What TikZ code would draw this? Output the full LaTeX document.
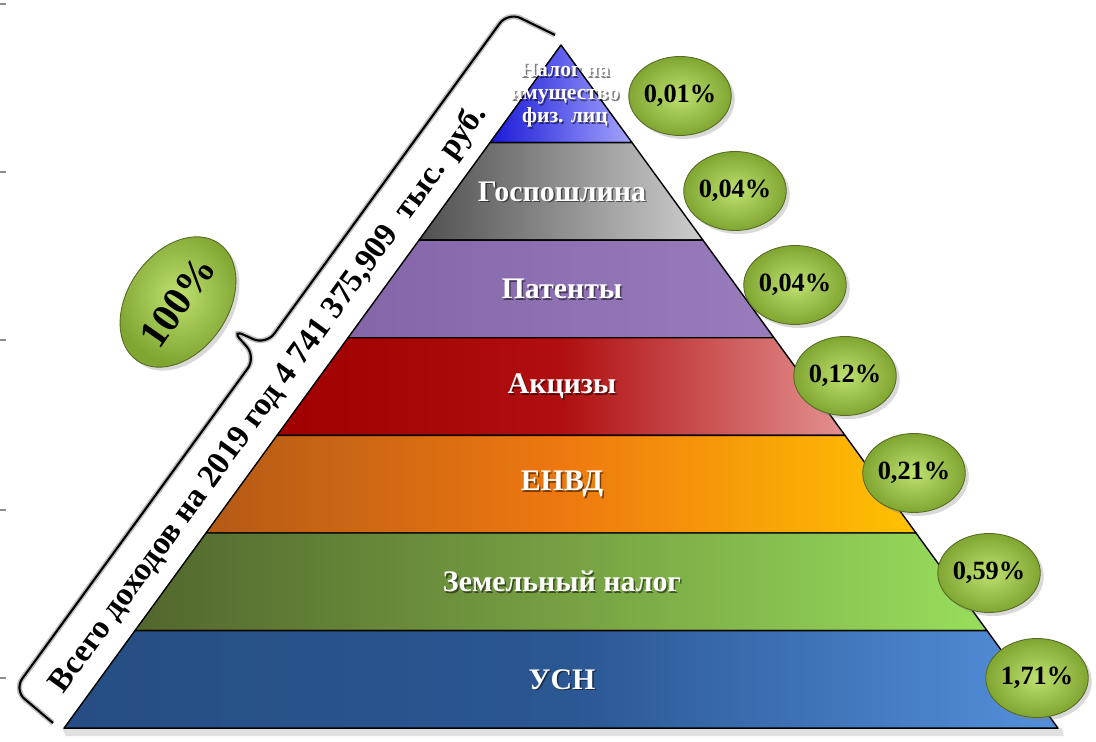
\documentclass[tikz,border=0pt]{standalone}
\usepackage{fontspec}
\setmainfont{Liberation Serif}
\usetikzlibrary{shapes.geometric, shadows, calc}

\definecolor{impblueL}{RGB}{25, 25, 215}
\definecolor{impblueR}{RGB}{165, 165, 255}
\definecolor{dutygrayL}{RGB}{80, 80, 80}
\definecolor{dutygrayR}{RGB}{205, 205, 205}
\definecolor{patpurpL}{RGB}{132, 102, 168}
\definecolor{patpurpR}{RGB}{152, 124, 188}
\definecolor{excredL}{RGB}{160, 0, 0}
\definecolor{excredM}{RGB}{176, 14, 16}
\definecolor{excredR}{RGB}{228, 145, 145}
\definecolor{envdL}{RGB}{180, 90, 22}
\definecolor{envdM}{RGB}{238, 120, 16}
\definecolor{envdR}{RGB}{255, 195, 0}
\definecolor{landL}{RGB}{82, 102, 45}
\definecolor{landM}{RGB}{118, 160, 66}
\definecolor{landR}{RGB}{152, 222, 92}
\definecolor{usnL}{RGB}{38, 78, 132}
\definecolor{usnM}{RGB}{42, 86, 146}
\definecolor{usnR}{RGB}{84, 144, 220}
\definecolor{pctlight}{RGB}{190, 224, 112}
\definecolor{pctdark}{RGB}{128, 166, 50}
\definecolor{pctedge}{RGB}{88, 106, 36}

\tikzset{
  layer/.style={draw=black, line width=0.8pt, line join=round},
  laytext/.style={font=\bfseries\fontsize{17}{19}\selectfont, text=white},
  layshadow/.style={laytext, text=black, text opacity=0.5},
  toptext/.style={font=\bfseries\fontsize{12.3}{13}\selectfont, text=white, align=center},
  topshadow/.style={toptext, text=black, text opacity=0.5},
  pctball/.style={ellipse, draw=pctedge, line width=0.5pt,
    inner color=pctlight, outer color=pctdark,
    minimum width=2.02cm, minimum height=1.58cm, inner sep=0pt,
    font=\bfseries\fontsize{15}{16}\selectfont,
    drop shadow={shadow xshift=2pt, shadow yshift=-2pt, opacity=0.3}},
}

\begin{document}
\begin{tikzpicture}[x=0.02cm, y=-0.02cm]
  \useasboundingbox (0,0) rectangle (1096,742);

  % axis ticks on the left
  \foreach \ty in {4,172,340,510,678}
    \draw[black!45, line width=0.8pt] (0,\ty) -- (6,\ty);

  % pyramid corners
  \foreach \k in {0,...,7} {
    \coordinate (L\k) at ({561-71*\k},{45+97.6*\k});
    \coordinate (R\k) at ({561+71*\k},{45+97.6*\k});
  }

  % shadow under the base
  \fill[black, opacity=0.12] ($(L7)+(-2,0)$) -- ($(R7)+(4,0)$) -- ($(R7)+(6,8)$) -- ($(L7)+(2,8)$) -- cycle;

  % === Layers ===
  \shade[layer, left color=impblueL, right color=impblueR] (L0) -- (L1) -- (R1) -- cycle;
  \shade[layer, left color=dutygrayL, right color=dutygrayR] (L1) -- (L2) -- (R2) -- (R1) -- cycle;
  \shade[layer, left color=patpurpL, right color=patpurpR] (L2) -- (L3) -- (R3) -- (R2) -- cycle;
  \shade[layer, left color=excredL, right color=excredR, middle color=excredM] (L3) -- (L4) -- (R4) -- (R3) -- cycle;
  \shade[layer, left color=envdL, right color=envdR, middle color=envdM] (L4) -- (L5) -- (R5) -- (R4) -- cycle;
  \shade[layer, left color=landL, right color=landR, middle color=landM] (L5) -- (L6) -- (R6) -- (R5) -- cycle;
  \shade[layer, left color=usnL, right color=usnR, middle color=usnM] (L6) -- (L7) -- (R7) -- (R6) -- cycle;

  % Layer labels
  \node[topshadow] (imp-sh) at (566.5,96.5) {Налог на\\имущество\\физ. лиц};
  \node[toptext] (imp) at (565,95) {Налог на\\имущество\\физ. лиц};
  \node[layshadow] (duty-sh) at (563.5,192.9) {Госпошлина};
  \node[laytext] (duty) at (562,191.4) {Госпошлина};
  \node[layshadow] (pat-sh) at (563.5,290.5) {Патенты};
  \node[laytext] (pat) at (562,289) {Патенты};
  \node[layshadow] (exc-sh) at (563.5,388.1) {Акцизы};
  \node[laytext] (exc) at (562,386.6) {Акцизы};
  \node[layshadow] (envd-sh) at (563.5,485.7) {ЕНВД};
  \node[laytext] (envd) at (562,484.2) {ЕНВД};
  \node[layshadow] (land-sh) at (563.5,583.3) {Земельный налог};
  \node[laytext] (land) at (562,581.8) {Земельный налог};
  \node[layshadow] (usn-sh) at (563.5,680.9) {УСН};
  \node[laytext] (usn) at (562,679.4) {УСН};

  % Shares
  \node[pctball] (pct1) at (680,96) {0,01\%};
  \node[pctball] (pct2) at (735,191) {0,04\%};
  \node[pctball] (pct3) at (795,285) {0,04\%};
  \node[pctball] (pct4) at (845,376) {0,12\%};
  \node[pctball] (pct5) at (914,473) {0,21\%};
  \node[pctball] (pct6) at (989,573) {0,59\%};
  \node[pctball] (pct7) at (1037,678) {1,71\%};

  % === Total brace ===
  \coordinate (brlow) at (53,723);
  \coordinate (brlowc) at (14,690);
  \coordinate (brmidl) at (256,357);
  \coordinate (brtip) at (231,329);
  \coordinate (brmidu) at (266,345);
  \coordinate (bruppc) at (508,12);
  \coordinate (brup) at (555,35);
  \draw[black!25, line width=3pt, rounded corners=8pt, shift={(4,3)}]
    (brlow) -- (brlowc) -- (brmidl) -- (brtip) -- (brmidu) -- (bruppc) -- (brup);
  \draw[line width=1.2pt, rounded corners=8pt]
    (brlow) -- (brlowc) -- (brmidl) -- (brtip) -- (brmidu) -- (bruppc) -- (brup);

  \node[font=\bfseries\fontsize{18.6}{20}\selectfont, rotate=53.9] (total) at (269,399)
    {Всего доходов на 2019 год 4 741 375,909\ \ тыс. руб.};

  \node[pctball, minimum width=2.6cm, minimum height=2.0cm, rotate=55,
    font=\bfseries\fontsize{23}{24}\selectfont] (full) at (178,302) {100\%};
\end{tikzpicture}
\end{document}
